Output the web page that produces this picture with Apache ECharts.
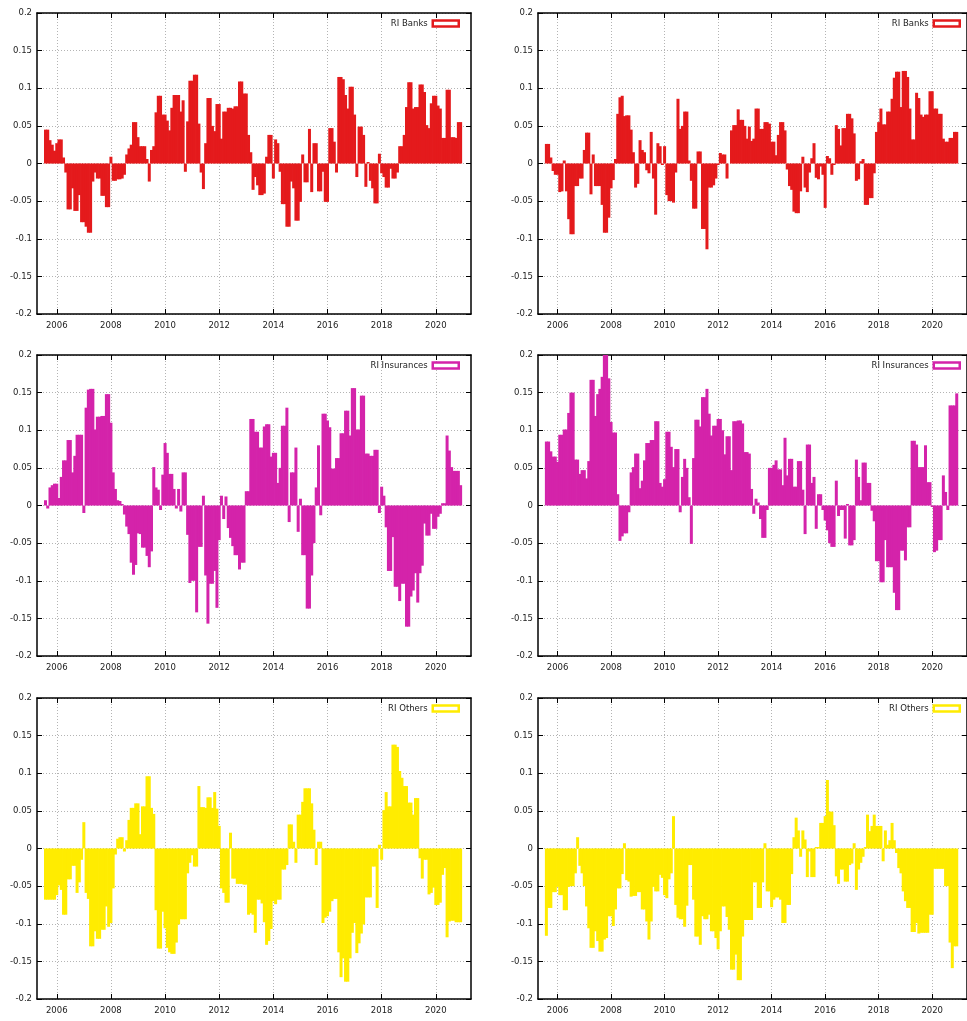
<!DOCTYPE html>
<html><head><meta charset="utf-8">
<script src="https://cdn.jsdelivr.net/npm/echarts@6.0.0/dist/echarts.min.js"></script>
<style>html,body{margin:0;padding:0;background:#fff}#c{width:967px;height:1021px}</style>
</head><body><div id="c"></div>
<script>
// Monthly observations, first value = August 2005, last = December 2020
const firstYear = 2005, firstMonth = 8;
const xTickYears = [2006, 2008, 2010, 2012, 2014, 2016, 2018, 2020];
const seriesNames = ['RI Banks', 'RI Insurances', 'RI Others'];

const banksLeft = [0.045,0.045,0.031,0.025,0.017,0.027,0.032,0.032,0.008,-0.012,
-0.061,-0.061,-0.033,-0.063,-0.063,-0.042,-0.078,-0.078,-0.084,-0.092,
-0.092,-0.024,-0.012,-0.02,-0.02,-0.043,-0.043,-0.058,-0.058,0.009,
-0.023,-0.023,-0.021,-0.021,-0.02,-0.015,0.012,0.02,0.025,0.055,
0.055,0.035,0.023,0.023,0.023,0.006,-0.024,0.018,0.023,0.068,
0.09,0.09,0.065,0.065,0.057,0.044,0.074,0.091,0.091,0.091,
0.069,0.084,-0.011,0.056,0.11,0.11,0.118,0.118,0.053,-0.012,
-0.034,0.027,0.087,0.087,0.05,0.043,0.079,0.079,0.033,0.069,
0.069,0.074,0.074,0.073,0.076,0.076,0.109,0.109,0.093,0.093,
0.038,0.015,-0.035,-0.018,-0.029,-0.042,-0.042,-0.04,0.009,0.038,
0.038,-0.02,0.032,0.027,-0.011,-0.054,-0.054,-0.084,-0.084,-0.024,
-0.033,-0.076,-0.076,-0.051,0.012,-0.025,-0.025,0.046,-0.038,0.027,
0.027,-0.037,-0.037,-0.011,-0.051,-0.051,0.047,0.047,0.029,-0.012,
0.115,0.115,0.112,0.091,0.073,0.102,0.102,0.065,-0.018,0.049,
0.049,0.038,-0.031,0.002,-0.023,-0.033,-0.053,-0.053,0.013,-0.013,
-0.018,-0.032,-0.032,-0.007,-0.02,-0.02,-0.012,0.023,0.023,0.038,
0.075,0.108,0.108,0.073,0.075,0.075,0.105,0.105,0.095,0.051,
0.047,0.08,0.09,0.09,0.077,0.073,0.034,0.034,0.098,0.098,
0.035,0.035,0.034,0.055,0.055];

const banksRight = [0.026,0.026,0.008,-0.01,-0.015,-0.015,-0.038,-0.037,0.004,-0.037,
-0.074,-0.094,-0.094,-0.03,-0.03,-0.02,-0.02,0.018,0.041,0.041,
-0.041,0.012,-0.03,-0.03,-0.03,-0.055,-0.092,-0.092,-0.072,-0.033,
-0.022,0.006,0.066,0.088,0.09,0.063,0.064,0.064,0.045,0.015,
-0.032,-0.027,0.031,0.018,0.015,-0.009,-0.013,0.042,-0.02,-0.068,
0.027,0.023,-0.002,0.023,-0.042,-0.05,-0.05,-0.052,-0.012,0.086,
0.046,0.05,0.069,0.069,0.004,-0.023,-0.06,-0.06,0.016,0.016,
-0.087,-0.087,-0.114,-0.032,-0.032,-0.029,-0.02,-0.002,0.014,0.012,
0.012,-0.02,0.0,0.044,0.051,0.051,0.072,0.058,0.058,0.05,
0.033,0.049,0.03,0.033,0.073,0.073,0.046,0.046,0.055,0.055,
0.053,0.029,0.029,0.011,0.038,0.055,0.055,0.044,-0.008,-0.03,
-0.035,-0.064,-0.066,-0.066,-0.037,0.009,-0.032,-0.038,-0.012,0.007,
0.027,-0.019,-0.021,-0.004,-0.015,-0.059,0.01,0.007,-0.015,-0.002,
0.051,0.046,0.024,0.047,0.047,0.066,0.066,0.06,0.04,-0.023,
-0.021,0.003,0.006,-0.055,-0.055,-0.046,-0.046,-0.013,0.042,0.055,
0.073,0.052,0.052,0.069,0.069,0.086,0.114,0.122,0.122,0.075,
0.123,0.123,0.115,0.073,0.032,0.032,0.094,0.087,0.065,0.062,
0.065,0.065,0.096,0.096,0.073,0.073,0.066,0.066,0.033,0.029,
0.029,0.034,0.034,0.042,0.042];

const insurancesLeft = [0.007,-0.004,0.024,0.027,0.029,0.029,0.01,0.038,0.06,0.06,
0.087,0.087,0.044,0.066,0.094,0.094,0.094,-0.01,0.13,0.154,
0.155,0.155,0.101,0.118,0.118,0.119,0.119,0.148,0.148,0.11,
0.044,0.022,0.007,0.006,0.002,-0.012,-0.028,-0.038,-0.076,-0.092,
-0.079,-0.037,-0.038,-0.056,-0.056,-0.067,-0.082,-0.061,0.051,0.024,
0.021,-0.006,0.041,0.083,0.07,0.042,0.042,0.022,-0.004,0.022,
-0.008,0.044,0.044,-0.039,-0.103,-0.1,-0.1,-0.142,-0.055,-0.055,
0.013,-0.093,-0.157,-0.104,-0.104,-0.087,-0.136,-0.046,0.013,-0.018,
0.012,-0.03,-0.043,-0.054,-0.066,-0.066,-0.085,-0.076,-0.076,0.019,
0.019,0.115,0.115,0.098,0.098,0.077,0.077,0.105,0.108,0.108,
0.065,0.07,0.07,0.03,0.05,0.106,0.106,0.13,-0.022,0.044,
0.044,0.077,-0.035,0.009,-0.066,-0.066,-0.137,-0.137,-0.093,-0.05,
0.024,0.08,-0.013,0.122,0.122,0.113,0.104,0.049,0.049,0.063,
0.063,0.096,0.096,0.126,0.126,0.093,0.156,0.156,0.101,0.101,
0.146,0.146,0.069,0.069,0.066,0.066,0.074,0.074,-0.01,0.025,
0.013,-0.029,-0.087,-0.087,-0.042,-0.108,-0.108,-0.127,-0.104,-0.104,
-0.161,-0.161,-0.121,-0.113,-0.09,-0.129,-0.09,-0.08,-0.024,-0.04,
-0.04,-0.011,-0.031,-0.031,-0.015,-0.011,0.003,0.003,0.093,0.073,
0.051,0.046,0.046,0.046,0.027];

const insurancesRight = [0.085,0.085,0.072,0.065,0.065,0.058,0.094,0.094,0.101,0.101,
0.123,0.15,0.15,0.061,0.061,0.042,0.047,0.047,0.036,0.059,
0.167,0.167,0.119,0.148,0.155,0.171,0.2,0.2,0.169,0.111,
0.097,0.097,0.015,-0.047,-0.041,-0.037,-0.037,-0.009,0.044,0.051,
0.069,0.069,0.023,0.033,0.06,0.083,0.083,0.087,0.087,0.112,
0.112,0.03,0.025,0.035,0.098,0.098,0.078,0.051,0.075,0.075,
-0.009,0.038,0.062,0.05,0.011,-0.051,0.063,0.114,0.114,0.105,
0.144,0.144,0.155,0.122,0.093,0.106,0.106,0.115,0.115,0.1,
0.068,0.092,0.092,0.047,0.112,0.112,0.113,0.113,0.109,0.071,
0.071,0.069,0.022,-0.011,0.009,0.004,-0.018,-0.043,-0.043,-0.006,
0.05,0.05,0.054,0.06,0.048,0.048,0.027,0.09,0.04,0.062,
0.062,0.025,0.025,0.059,0.059,0.021,-0.038,0.081,0.081,0.03,
0.038,-0.031,0.015,0.015,-0.006,-0.02,-0.033,-0.05,-0.055,-0.055,
0.033,-0.014,-0.006,-0.006,-0.044,0.002,-0.053,-0.053,-0.046,0.061,
0.038,0.007,0.057,0.057,0.03,0.03,-0.007,-0.021,-0.074,-0.074,
-0.102,-0.102,-0.046,-0.082,-0.082,-0.082,-0.116,-0.139,-0.139,-0.06,
-0.06,-0.073,-0.029,-0.029,0.086,0.086,0.081,0.051,0.051,0.051,
0.08,0.031,0.031,-0.002,-0.062,-0.06,-0.046,-0.046,0.04,0.018,
-0.006,0.133,0.133,0.133,0.149];

const othersLeft = [-0.068,-0.068,-0.068,-0.068,-0.068,-0.062,-0.049,-0.055,-0.088,-0.088,
-0.041,-0.041,-0.023,-0.023,-0.059,-0.045,-0.015,0.035,-0.059,-0.067,
-0.13,-0.13,-0.11,-0.12,-0.12,-0.108,-0.108,-0.077,-0.104,-0.099,
-0.053,-0.008,0.013,0.015,0.015,-0.004,0.011,0.038,0.054,0.054,
0.06,0.06,0.019,0.056,0.056,0.096,0.096,0.054,0.046,-0.082,
-0.133,-0.133,-0.084,-0.106,-0.132,-0.138,-0.14,-0.14,-0.125,-0.101,
-0.094,-0.094,-0.094,-0.033,-0.019,-0.009,-0.024,-0.024,0.083,0.055,
0.055,0.054,0.068,0.068,0.054,0.075,0.053,0.03,-0.053,-0.059,
-0.072,-0.072,0.021,-0.04,-0.04,-0.047,-0.047,-0.047,-0.048,-0.048,
-0.088,-0.086,-0.088,-0.112,-0.068,-0.068,-0.073,-0.098,-0.128,-0.123,
-0.107,-0.07,-0.074,-0.068,-0.068,-0.028,-0.028,-0.022,0.032,0.032,
0.009,-0.019,0.045,0.045,0.062,0.08,0.08,0.08,0.06,0.025,
-0.022,0.009,0.009,-0.099,-0.092,-0.09,-0.084,-0.07,-0.067,-0.067,
-0.138,-0.171,-0.146,-0.177,-0.177,-0.146,-0.112,-0.099,-0.139,-0.126,
-0.113,-0.101,-0.065,-0.065,-0.065,-0.024,-0.024,-0.079,0.005,-0.015,
0.051,0.075,0.056,0.056,0.138,0.138,0.135,0.103,0.094,0.083,
0.083,0.061,0.061,0.045,0.067,0.067,-0.013,-0.04,-0.015,-0.015,
-0.061,-0.059,-0.052,-0.075,-0.075,-0.072,-0.035,-0.026,-0.118,-0.097,
-0.096,-0.096,-0.098,-0.098,-0.098];

const othersRight = [-0.116,-0.079,-0.079,-0.058,-0.058,-0.051,-0.062,-0.062,-0.082,-0.082,
-0.051,-0.05,-0.05,-0.033,0.015,-0.023,-0.033,-0.05,-0.077,-0.106,
-0.132,-0.132,-0.11,-0.123,-0.137,-0.137,-0.121,-0.119,-0.09,-0.09,
-0.103,-0.081,-0.053,-0.053,-0.034,0.007,-0.042,-0.044,-0.064,-0.063,
-0.063,-0.058,-0.058,-0.081,-0.081,-0.097,-0.121,-0.097,-0.051,-0.057,
-0.057,-0.035,-0.039,-0.062,-0.066,-0.041,-0.033,0.043,-0.075,-0.092,
-0.094,-0.094,-0.104,-0.076,-0.022,-0.022,-0.068,-0.117,-0.117,-0.128,
-0.09,-0.094,-0.094,-0.088,-0.11,-0.11,-0.119,-0.134,-0.11,-0.077,
-0.077,-0.091,-0.108,-0.161,-0.161,-0.141,-0.175,-0.175,-0.117,-0.095,
-0.095,-0.095,-0.095,-0.045,-0.045,-0.079,-0.079,-0.045,0.007,-0.057,
-0.057,-0.078,-0.068,-0.065,-0.065,-0.068,-0.099,-0.099,-0.075,-0.075,
-0.034,0.015,0.041,0.024,-0.011,0.024,0.012,-0.038,-0.004,-0.038,
-0.038,0.002,0.002,0.034,0.034,0.043,0.091,0.049,0.049,0.031,
-0.037,-0.047,-0.028,-0.028,-0.044,-0.044,-0.022,-0.02,0.007,-0.055,
-0.028,-0.019,-0.011,0.002,0.045,0.023,0.03,0.045,0.03,0.03,
0.03,-0.017,0.024,0.005,0.011,0.034,0.011,-0.006,-0.026,-0.033,
-0.057,-0.07,-0.079,-0.079,-0.111,-0.111,-0.099,-0.113,-0.112,-0.112,
-0.112,-0.112,-0.088,-0.088,-0.027,-0.027,-0.027,-0.027,-0.027,-0.05,
-0.05,-0.125,-0.159,-0.13,-0.13];

const RED = '#e41a1c', MAGENTA = '#d423aa', YELLOW = '#ffec00';
const FONT = 'DejaVu Sans';

const panels = [
  {name: seriesNames[0], values: banksLeft,       color: RED,     col: 0, row: 0},
  {name: seriesNames[0], values: banksRight,      color: RED,     col: 1, row: 0},
  {name: seriesNames[1], values: insurancesLeft,  color: MAGENTA, col: 0, row: 1},
  {name: seriesNames[1], values: insurancesRight, color: MAGENTA, col: 1, row: 1},
  {name: seriesNames[2], values: othersLeft,      color: YELLOW,  col: 0, row: 2},
  {name: seriesNames[2], values: othersRight,     color: YELLOW,  col: 1, row: 2}
];

const gridLeft = [37, 538], gridTop = [13, 355, 698], gridW = 434, gridH = 301;
const xMin = 2005.27, xMax = 2021.30;
const frame = {color: '#000', width: 1.5};
const dotted = {color: '#b4b4b4', type: [1, 2], width: 1};
const labelStyle = {fontSize: 8.5, color: '#222', fontFamily: FONT};

const grid = [], xAxis = [], yAxis = [], series = [], legend = [];
panels.forEach((p, k) => {
  grid.push({left: gridLeft[p.col], top: gridTop[p.row], width: gridW, height: gridH, containLabel: false});
  xAxis.push({type: 'value', gridIndex: k, min: xMin, max: xMax, position: 'bottom',
    axisLine: {show: true, onZero: false, lineStyle: frame},
    axisTick: {show: true, inside: true, length: 5, customValues: xTickYears, lineStyle: {color: '#000', width: 1}},
    axisLabel: Object.assign({show: true, customValues: xTickYears, margin: 7, formatter: v => String(Math.round(v))}, labelStyle),
    splitLine: {show: true, lineStyle: dotted}});
  xAxis.push({type: 'value', gridIndex: k, min: xMin, max: xMax, position: 'top',
    axisLine: {show: true, onZero: false, lineStyle: frame},
    axisTick: {show: true, inside: true, length: 5, customValues: xTickYears, lineStyle: {color: '#000', width: 1}},
    axisLabel: {show: false}, splitLine: {show: false}});
  yAxis.push({type: 'value', gridIndex: k, min: -0.2, max: 0.2, interval: 0.05, position: 'left',
    axisLine: {show: true, onZero: false, lineStyle: frame},
    axisTick: {show: true, inside: true, length: 5, lineStyle: {color: '#000', width: 1}},
    axisLabel: Object.assign({show: true, margin: 5}, labelStyle),
    splitLine: {show: true, lineStyle: dotted}});
  yAxis.push({type: 'value', gridIndex: k, min: -0.2, max: 0.2, interval: 0.05, position: 'right',
    axisLine: {show: true, onZero: false, lineStyle: frame},
    axisTick: {show: true, inside: true, length: 5, lineStyle: {color: '#000', width: 1}},
    axisLabel: {show: false}, splitLine: {show: false}});
  const data = p.values.map((v, i) => [firstYear + (firstMonth - 1 + i) / 12, v]);
  series.push({type: 'bar', name: p.name, xAxisIndex: 2 * k, yAxisIndex: 2 * k, data: data,
    barWidth: 3, itemStyle: {color: p.color}, silent: true, animation: false});
  legend.push({data: [p.name], selectedMode: false, orient: 'horizontal', align: 'right', icon: 'rect',
    right: p.col === 0 ? 502 : 1, top: gridTop[p.row] + 1,
    itemWidth: 26, itemHeight: 6,
    itemStyle: {color: '#fff', borderColor: p.color, borderWidth: 2.5},
    textStyle: {fontSize: 8.5, color: '#222', fontFamily: FONT}});
});

const chart = echarts.init(document.getElementById('c'), null, {renderer: 'canvas'});
chart.setOption({backgroundColor: '#fff', animation: false, grid, xAxis, yAxis, series, legend});
</script></body></html>
